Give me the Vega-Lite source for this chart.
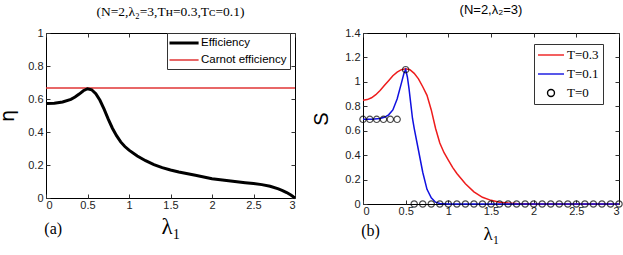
{
  "$schema": "https://vega.github.io/schema/vega-lite/v6.json",
  "padding": {"left": -2, "top": 3, "right": 2, "bottom": 3},
  "background": "white",
  "bounds": "flush",
  "spacing": 68,
  "config": {
    "view": {"stroke": "black", "strokeWidth": 1},
    "axis": {
      "domain": false,
      "grid": false,
      "tickSize": -4,
      "tickColor": "#333",
      "labelFont": "Liberation Sans",
      "labelFontSize": 11,
      "labelColor": "#222",
      "titleColor": "black",
      "titleFontWeight": "normal"
    },
    "axisX": {"labelPadding": 5},
    "axisY": {"labelPadding": 7},
    "title": {"fontWeight": "normal", "color": "black"}
  },
  "resolve": {"scale": {"color": "independent", "x": "independent", "y": "independent"}, "legend": {"color": "independent"}},
  "datasets": {
    "eff": [
      {"lambda": 0, "eta": 0.572, "series": "Efficiency"},
      {"lambda": 0.1, "eta": 0.574, "series": "Efficiency"},
      {"lambda": 0.2, "eta": 0.582, "series": "Efficiency"},
      {"lambda": 0.3, "eta": 0.598, "series": "Efficiency"},
      {"lambda": 0.35, "eta": 0.612, "series": "Efficiency"},
      {"lambda": 0.4, "eta": 0.63, "series": "Efficiency"},
      {"lambda": 0.45, "eta": 0.65, "series": "Efficiency"},
      {"lambda": 0.5, "eta": 0.662, "series": "Efficiency"},
      {"lambda": 0.55, "eta": 0.656, "series": "Efficiency"},
      {"lambda": 0.6, "eta": 0.632, "series": "Efficiency"},
      {"lambda": 0.65, "eta": 0.592, "series": "Efficiency"},
      {"lambda": 0.7, "eta": 0.538, "series": "Efficiency"},
      {"lambda": 0.75, "eta": 0.478, "series": "Efficiency"},
      {"lambda": 0.8, "eta": 0.423, "series": "Efficiency"},
      {"lambda": 0.85, "eta": 0.378, "series": "Efficiency"},
      {"lambda": 0.9, "eta": 0.34, "series": "Efficiency"},
      {"lambda": 0.95, "eta": 0.312, "series": "Efficiency"},
      {"lambda": 1.0, "eta": 0.29, "series": "Efficiency"},
      {"lambda": 1.1, "eta": 0.255, "series": "Efficiency"},
      {"lambda": 1.2, "eta": 0.226, "series": "Efficiency"},
      {"lambda": 1.3, "eta": 0.202, "series": "Efficiency"},
      {"lambda": 1.4, "eta": 0.184, "series": "Efficiency"},
      {"lambda": 1.5, "eta": 0.17, "series": "Efficiency"},
      {"lambda": 1.6, "eta": 0.158, "series": "Efficiency"},
      {"lambda": 1.8, "eta": 0.138, "series": "Efficiency"},
      {"lambda": 2.0, "eta": 0.117, "series": "Efficiency"},
      {"lambda": 2.2, "eta": 0.104, "series": "Efficiency"},
      {"lambda": 2.4, "eta": 0.093, "series": "Efficiency"},
      {"lambda": 2.5, "eta": 0.088, "series": "Efficiency"},
      {"lambda": 2.6, "eta": 0.081, "series": "Efficiency"},
      {"lambda": 2.7, "eta": 0.071, "series": "Efficiency"},
      {"lambda": 2.8, "eta": 0.055, "series": "Efficiency"},
      {"lambda": 2.85, "eta": 0.045, "series": "Efficiency"},
      {"lambda": 2.9, "eta": 0.033, "series": "Efficiency"},
      {"lambda": 2.95, "eta": 0.018, "series": "Efficiency"},
      {"lambda": 3.0, "eta": 0.0, "series": "Efficiency"},
      {"lambda": 0, "eta": 0.6667, "series": "Carnot efficiency"},
      {"lambda": 3, "eta": 0.6667, "series": "Carnot efficiency"}
    ],
    "ent": [
      {"lambda": 0, "S": 0.85, "series": "T=0.3"},
      {"lambda": 0.05, "S": 0.855, "series": "T=0.3"},
      {"lambda": 0.1, "S": 0.87, "series": "T=0.3"},
      {"lambda": 0.15, "S": 0.895, "series": "T=0.3"},
      {"lambda": 0.2, "S": 0.93, "series": "T=0.3"},
      {"lambda": 0.25, "S": 0.97, "series": "T=0.3"},
      {"lambda": 0.3, "S": 1.01, "series": "T=0.3"},
      {"lambda": 0.35, "S": 1.05, "series": "T=0.3"},
      {"lambda": 0.4, "S": 1.08, "series": "T=0.3"},
      {"lambda": 0.45, "S": 1.1, "series": "T=0.3"},
      {"lambda": 0.5, "S": 1.107, "series": "T=0.3"},
      {"lambda": 0.55, "S": 1.1, "series": "T=0.3"},
      {"lambda": 0.6, "S": 1.07, "series": "T=0.3"},
      {"lambda": 0.65, "S": 1.025, "series": "T=0.3"},
      {"lambda": 0.7, "S": 0.96, "series": "T=0.3"},
      {"lambda": 0.75, "S": 0.89, "series": "T=0.3"},
      {"lambda": 0.8, "S": 0.77, "series": "T=0.3"},
      {"lambda": 0.85, "S": 0.62, "series": "T=0.3"},
      {"lambda": 0.9, "S": 0.5, "series": "T=0.3"},
      {"lambda": 0.95, "S": 0.42, "series": "T=0.3"},
      {"lambda": 1.0, "S": 0.36, "series": "T=0.3"},
      {"lambda": 1.05, "S": 0.3, "series": "T=0.3"},
      {"lambda": 1.1, "S": 0.25, "series": "T=0.3"},
      {"lambda": 1.2, "S": 0.165, "series": "T=0.3"},
      {"lambda": 1.3, "S": 0.1, "series": "T=0.3"},
      {"lambda": 1.4, "S": 0.055, "series": "T=0.3"},
      {"lambda": 1.5, "S": 0.03, "series": "T=0.3"},
      {"lambda": 1.6, "S": 0.015, "series": "T=0.3"},
      {"lambda": 1.7, "S": 0.008, "series": "T=0.3"},
      {"lambda": 1.8, "S": 0.004, "series": "T=0.3"},
      {"lambda": 2.0, "S": 0.001, "series": "T=0.3"},
      {"lambda": 2.5, "S": 0, "series": "T=0.3"},
      {"lambda": 3.0, "S": 0, "series": "T=0.3"},
      {"lambda": 0, "S": 0.693, "series": "T=0.1"},
      {"lambda": 0.1, "S": 0.694, "series": "T=0.1"},
      {"lambda": 0.2, "S": 0.7, "series": "T=0.1"},
      {"lambda": 0.25, "S": 0.71, "series": "T=0.1"},
      {"lambda": 0.3, "S": 0.73, "series": "T=0.1"},
      {"lambda": 0.35, "S": 0.77, "series": "T=0.1"},
      {"lambda": 0.4, "S": 0.86, "series": "T=0.1"},
      {"lambda": 0.45, "S": 0.99, "series": "T=0.1"},
      {"lambda": 0.48, "S": 1.07, "series": "T=0.1"},
      {"lambda": 0.5, "S": 1.1, "series": "T=0.1"},
      {"lambda": 0.52, "S": 1.04, "series": "T=0.1"},
      {"lambda": 0.54, "S": 0.94, "series": "T=0.1"},
      {"lambda": 0.56, "S": 0.82, "series": "T=0.1"},
      {"lambda": 0.58, "S": 0.7, "series": "T=0.1"},
      {"lambda": 0.6, "S": 0.62, "series": "T=0.1"},
      {"lambda": 0.65, "S": 0.44, "series": "T=0.1"},
      {"lambda": 0.7, "S": 0.26, "series": "T=0.1"},
      {"lambda": 0.75, "S": 0.12, "series": "T=0.1"},
      {"lambda": 0.8, "S": 0.05, "series": "T=0.1"},
      {"lambda": 0.85, "S": 0.015, "series": "T=0.1"},
      {"lambda": 0.9, "S": 0.005, "series": "T=0.1"},
      {"lambda": 1.0, "S": 0.001, "series": "T=0.1"},
      {"lambda": 1.5, "S": 0, "series": "T=0.1"},
      {"lambda": 3.0, "S": 0, "series": "T=0.1"},
      {"lambda": 0, "S": 0.693, "series": "T=0"},
      {"lambda": 0.08, "S": 0.693, "series": "T=0"},
      {"lambda": 0.16, "S": 0.693, "series": "T=0"},
      {"lambda": 0.24, "S": 0.693, "series": "T=0"},
      {"lambda": 0.32, "S": 0.693, "series": "T=0"},
      {"lambda": 0.4, "S": 0.693, "series": "T=0"},
      {"lambda": 0.5, "S": 1.1, "series": "T=0"},
      {"lambda": 0.6, "S": 0, "series": "T=0"},
      {"lambda": 0.7, "S": 0, "series": "T=0"},
      {"lambda": 0.8, "S": 0, "series": "T=0"},
      {"lambda": 0.9, "S": 0, "series": "T=0"},
      {"lambda": 1.0, "S": 0, "series": "T=0"},
      {"lambda": 1.1, "S": 0, "series": "T=0"},
      {"lambda": 1.2, "S": 0, "series": "T=0"},
      {"lambda": 1.3, "S": 0, "series": "T=0"},
      {"lambda": 1.4, "S": 0, "series": "T=0"},
      {"lambda": 1.5, "S": 0, "series": "T=0"},
      {"lambda": 1.6, "S": 0, "series": "T=0"},
      {"lambda": 1.7, "S": 0, "series": "T=0"},
      {"lambda": 1.8, "S": 0, "series": "T=0"},
      {"lambda": 1.9, "S": 0, "series": "T=0"},
      {"lambda": 2.0, "S": 0, "series": "T=0"},
      {"lambda": 2.1, "S": 0, "series": "T=0"},
      {"lambda": 2.2, "S": 0, "series": "T=0"},
      {"lambda": 2.3, "S": 0, "series": "T=0"},
      {"lambda": 2.4, "S": 0, "series": "T=0"},
      {"lambda": 2.5, "S": 0, "series": "T=0"},
      {"lambda": 2.6, "S": 0, "series": "T=0"},
      {"lambda": 2.7, "S": 0, "series": "T=0"},
      {"lambda": 2.8, "S": 0, "series": "T=0"},
      {"lambda": 2.9, "S": 0, "series": "T=0"},
      {"lambda": 3.0, "S": 0, "series": "T=0"}
    ],
    "labA": [{"lambda": -0.02, "eta": -0.19, "label": "(a)"}],
    "labB": [{"lambda": -0.02, "S": -0.22, "label": "(b)"}]
  },
  "hconcat": [
    {
      "width": 249,
      "height": 165,
      "title": {"text": "(N=2,λ₂=3,Tʜ=0.3,Tᴄ=0.1)", "font": "Liberation Serif", "fontSize": 13.5, "offset": 9, "anchor": "middle"},
      "resolve": {"axis": {"x": "independent", "y": "independent"}},
      "layer": [
        {
          "data": {"name": "eff"},
          "transform": [{"filter": "datum.series === 'Carnot efficiency'"}],
          "mark": {"type": "line", "strokeWidth": 1.5},
          "encoding": {
            "x": {"field": "lambda", "type": "quantitative", "scale": {"domain": [0, 3], "nice": false, "zero": false},
                  "axis": {"values": [0, 0.5, 1, 1.5, 2, 2.5, 3], "format": "~g", "title": "λ₁", "titleFont": "Liberation Serif", "titleFontSize": 23, "titlePadding": 5}},
            "y": {"field": "eta", "type": "quantitative", "scale": {"domain": [0, 1], "nice": false},
                  "axis": {"values": [0, 0.2, 0.4, 0.6, 0.8, 1], "format": "~g", "title": "η", "titleFont": "DejaVu Sans", "titleFontSize": 19, "titlePadding": 10}},
            "color": {"field": "series", "type": "nominal",
                      "scale": {"domain": ["Efficiency", "Carnot efficiency"], "range": ["black", "#e03535"]},
                      "legend": {"title": null, "orient": "none", "legendX": 121, "legendY": 0,
                                 "strokeColor": "#333", "fillColor": "white", "padding": 3,
                                 "symbolSize": 144, "symbolStrokeWidth": 2,
                                 "labelFont": "Liberation Sans", "labelFontSize": 11.5, "labelColor": "black",
                                 "labelOffset": 17, "rowPadding": 4,
                                 "encode": {"symbols": {"update": {
                                   "shape": {"value": "M-1.25,0L3.6,0"},
                                   "size": {"value": 144},
                                   "fill": {"value": "transparent"},
                                   "strokeWidth": {"signal": "(datum.value === 'Efficiency' ? 3 : 1.5)"}}}}}}
          }
        },
        {
          "data": {"name": "eff"},
          "transform": [{"filter": "datum.series === 'Efficiency'"}],
          "mark": {"type": "line", "strokeWidth": 3},
          "encoding": {
            "x": {"field": "lambda", "type": "quantitative", "axis": {"orient": "top", "labels": false, "title": null, "values": [0, 0.5, 1, 1.5, 2, 2.5, 3]}},
            "y": {"field": "eta", "type": "quantitative", "axis": {"orient": "right", "labels": false, "title": null, "values": [0, 0.2, 0.4, 0.6, 0.8, 1]}},
            "color": {"field": "series", "type": "nominal"}
          }
        },
        {
          "data": {"name": "labA"},
          "mark": {"type": "text", "font": "Liberation Serif", "fontSize": 16, "align": "left", "baseline": "middle", "color": "black"},
          "encoding": {
            "x": {"field": "lambda", "type": "quantitative", "axis": null},
            "y": {"field": "eta", "type": "quantitative", "axis": null},
            "text": {"field": "label"}
          }
        }
      ]
    },
    {
      "width": 256,
      "height": 171,
      "title": {"text": "(N=2,λ₂=3)", "font": "Liberation Sans", "fontSize": 13, "offset": 10, "anchor": "middle"},
      "resolve": {"axis": {"x": "independent", "y": "independent"}},
      "layer": [
        {
          "data": {"name": "ent"},
          "transform": [{"filter": "datum.series !== 'T=0'"}],
          "mark": {"type": "line", "strokeWidth": 1.5},
          "encoding": {
            "x": {"field": "lambda", "type": "quantitative", "scale": {"domain": [0, 3], "nice": false, "zero": false},
                  "axis": {"values": [0, 0.5, 1, 1.5, 2, 2.5, 3], "format": "~g", "title": "λ₁", "titleFont": "Liberation Serif", "titleFontSize": 19, "titlePadding": 8}},
            "y": {"field": "S", "type": "quantitative", "scale": {"domain": [0, 1.4], "nice": false},
                  "axis": {"values": [0, 0.2, 0.4, 0.6, 0.8, 1, 1.2, 1.4], "format": "~g", "title": "S", "titleFont": "Liberation Sans", "titleFontSize": 20, "titlePadding": 13}},
            "color": {"field": "series", "type": "nominal",
                      "scale": {"domain": ["T=0.3", "T=0.1", "T=0"], "range": ["#ee1c1c", "#1010e0", "black"]},
                      "legend": {"title": null, "orient": "none", "legendX": 171, "legendY": 11,
                                 "strokeColor": "#333", "fillColor": "white", "padding": 4,
                                 "symbolSize": 144, "symbolStrokeWidth": 1.4,
                                 "labelFont": "Liberation Serif", "labelFontSize": 13, "labelColor": "black",
                                 "labelOffset": 15, "rowPadding": 5,
                                 "labelExpr": "datum.label + '\u00a0\u00a0\u00a0\u00a0\u00a0\u00a0'",
                                 "encode": {"symbols": {"update": {
                                   "shape": {"signal": "datum.value === 'T=0' ? 'M0.42,0A0.58,0.58,0,1,0,1.58,0A0.58,0.58,0,1,0,0.42,0Z' : 'M-1.17,0L3.17,0'"},
                                   "size": {"value": 144},
                                   "strokeWidth": {"value": 1.4},
                                   "fill": {"value": "transparent"}}}}}}
          }
        },
        {
          "data": {"name": "ent"},
          "transform": [{"filter": "datum.series === 'T=0'"}],
          "mark": {"type": "point", "shape": "circle", "filled": false, "size": 40, "strokeWidth": 1.2},
          "encoding": {
            "x": {"field": "lambda", "type": "quantitative", "axis": {"orient": "top", "labels": false, "title": null, "values": [0, 0.5, 1, 1.5, 2, 2.5, 3]}},
            "y": {"field": "S", "type": "quantitative", "axis": {"orient": "right", "labels": false, "title": null, "values": [0, 0.2, 0.4, 0.6, 0.8, 1, 1.2, 1.4]}},
            "color": {"field": "series", "type": "nominal"}
          }
        },
        {
          "data": {"name": "labB"},
          "mark": {"type": "text", "font": "Liberation Serif", "fontSize": 16, "align": "left", "baseline": "middle", "color": "black"},
          "encoding": {
            "x": {"field": "lambda", "type": "quantitative", "axis": null},
            "y": {"field": "S", "type": "quantitative", "axis": null},
            "text": {"field": "label"}
          }
        }
      ]
    }
  ]
}
